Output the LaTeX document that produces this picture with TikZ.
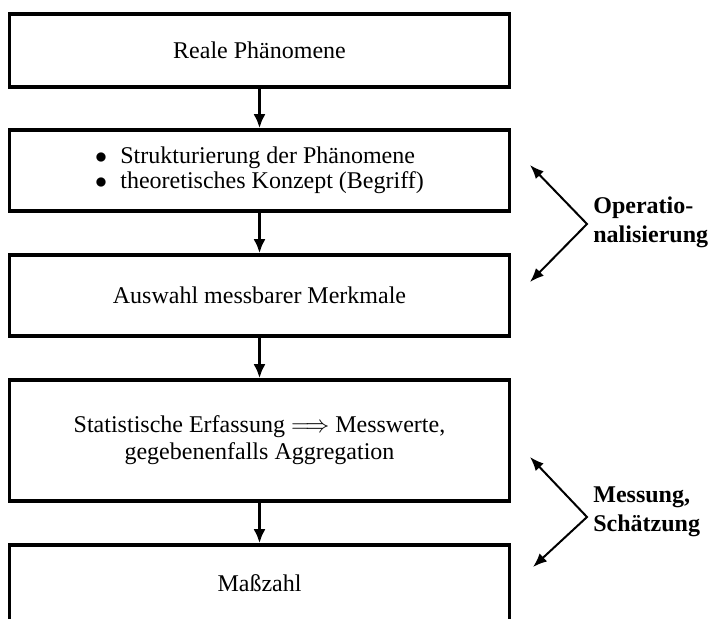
\documentclass[tikz,border=0pt,12pt]{standalone}
\usepackage{fontspec}
\setmainfont{Liberation Serif}
\usetikzlibrary{arrows.meta}

\begin{document}
\begin{tikzpicture}[x=0.5pt,y=-0.5pt,
  box/.style={draw, line width=1.8pt, minimum width=250pt, inner sep=0pt,
    align=center, font=\fontsize{12}{13.5}\selectfont},
  flow/.style={-{Latex[length=7pt,width=6pt]}, line width=1.6pt},
  side/.style={{Latex[length=7pt,width=5.5pt]}-{Latex[length=7pt,width=5.5pt]},
    line width=1pt},
  tag/.style={anchor=west, inner sep=0pt, align=left,
    font=\bfseries\fontsize{12}{14.5}\selectfont}]
% Frame
\clip (0,0) rectangle (708,618);

% Boxes
\node[box, minimum height=36.5pt] (real) at (259.5,50.5) {Reale Phänomene};
\node[box, minimum height=40.5pt] (struct) at (259.5,170.5)
  {\begin{tabular}{@{}l@{}}
   $\bullet$\hspace{0.55em}Strukturierung der Phänomene\\[-1pt]
   $\bullet$\hspace{0.55em}theoretisches Konzept (Begriff)
   \end{tabular}};
\node[box, minimum height=40.5pt] (merkmal) at (259.5,295.5) {Auswahl messbarer Merkmale};
\node[box, minimum height=60.5pt] (erfass) at (259.5,440.5)
  {Statistische Erfassung $\Longrightarrow$ Messwerte,\\ gegebenenfalls Aggregation};
\node[box, minimum height=38pt] (mass) at (259.5,583) {Maßzahl};

% Arrows between the boxes
\draw[flow] (real) -- (struct);
\draw[flow] (struct) -- (merkmal);
\draw[flow] (merkmal) -- (erfass);
\draw[flow] (erfass) -- (mass);

% Operationalisierung
\coordinate (opup) at (530,165);
\coordinate (opmid) at (587,224);
\coordinate (opdown) at (530,282);
\draw[side] (opup) -- (opmid) -- (opdown);
\node[tag] (optag) at (593,222) {Operatio-\\nalisierung};

% Messung, Schaetzung
\coordinate (meup) at (530,457);
\coordinate (memid) at (587,517);
\coordinate (medown) at (533,567);
\draw[side] (meup) -- (memid) -- (medown);
\node[tag] (metag) at (593,512) {Messung,\\Schätzung};
\end{tikzpicture}
\end{document}
